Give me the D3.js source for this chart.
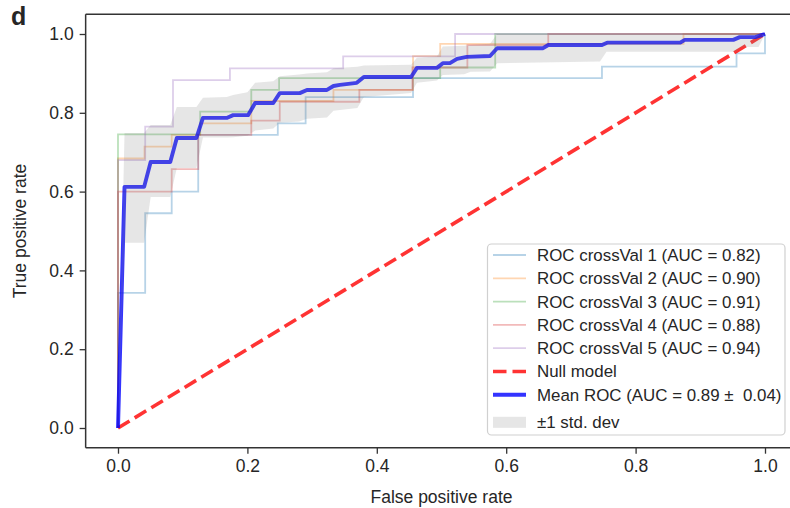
<!DOCTYPE html>
<html>
<head>
<meta charset="utf-8">
<script src="https://cdn.jsdelivr.net/npm/d3@7"></script>
<style>
  body { margin: 0; background: #fff; }
  svg { display: block; }
  text { font-family: "Liberation Sans", Arial, Helvetica, sans-serif; fill: #262626; }
</style>
</head>
<body>
<svg id="chart" width="790" height="508"></svg>
<script>
// ---------- DATA ----------
const xTicks = [0.0, 0.2, 0.4, 0.6, 0.8, 1.0];
const yTicks = [0.0, 0.2, 0.4, 0.6, 0.8, 1.0];
const foldLabels = [
  "ROC crossVal 1 (AUC = 0.82)",
  "ROC crossVal 2 (AUC = 0.90)",
  "ROC crossVal 3 (AUC = 0.91)",
  "ROC crossVal 4 (AUC = 0.88)",
  "ROC crossVal 5 (AUC = 0.94)"
];
const foldColors = ["#1f77b4", "#ff7f0e", "#2ca02c", "#d62728", "#9467bd"];

const fold1Fpr = [0,0,0.042,0.042,0.083,0.083,0.124,0.124,0.247,0.247,0.29,0.29,0.456,0.456,0.748,0.748,0.956,0.956,1,1];
const fold1Tpr = [0,0.343,0.343,0.545,0.545,0.6,0.6,0.744,0.744,0.773,0.773,0.84,0.84,0.888,0.888,0.917,0.917,0.951,0.951,1];
const fold2Fpr = [0,0,0.041,0.041,0.083,0.083,0.127,0.127,0.206,0.206,0.333,0.333,0.456,0.456,0.498,0.498,0.874,0.874,1];
const fold2Tpr = [0,0.684,0.684,0.714,0.714,0.744,0.744,0.773,0.773,0.83,0.83,0.858,0.858,0.944,0.944,0.975,0.975,1,1];
const fold3Fpr = [0,0,0.127,0.127,0.206,0.206,0.249,0.249,0.498,0.498,0.583,0.583,1];
const fold3Tpr = [0,0.745,0.745,0.803,0.803,0.858,0.858,0.888,0.888,0.915,0.915,1,1];
const fold4Fpr = [0,0,0.083,0.083,0.124,0.124,0.206,0.206,0.25,0.25,0.373,0.373,0.455,0.455,0.54,0.54,0.665,0.665,1];
const fold4Tpr = [0,0.6,0.6,0.657,0.657,0.744,0.744,0.78,0.78,0.828,0.828,0.858,0.858,0.915,0.915,0.972,0.972,1,1];
const fold5Fpr = [0,0,0.042,0.042,0.085,0.085,0.173,0.173,0.348,0.348,0.521,0.521,1];
const fold5Tpr = [0,0.68,0.68,0.765,0.765,0.883,0.883,0.913,0.913,0.943,0.943,1,1];

const meanFpr = [0,0.0101,0.0404,0.0505,0.0808,0.0909,0.1212,0.1313,0.168,0.178,0.201,0.212,0.24,0.25,0.281,0.292,0.323,0.333,0.343,0.369,0.38,0.453,0.462,0.493,0.502,0.513,0.524,0.539,0.575,0.586,0.657,0.665,0.748,0.756,0.869,0.876,0.951,0.961,0.985,1];
const meanTpr = [0,0.612,0.612,0.675,0.675,0.736,0.736,0.787,0.787,0.794,0.794,0.825,0.825,0.85,0.85,0.858,0.858,0.868,0.871,0.876,0.891,0.891,0.914,0.914,0.926,0.926,0.937,0.942,0.944,0.964,0.964,0.972,0.972,0.978,0.978,0.985,0.985,0.992,0.992,1];

const bandFpr   = [0,0.0101,0.0404,0.0505,0.0808,0.0909,0.1212,0.1313,0.168,0.178,0.2,0.212,0.24,0.25,0.28,0.292,0.323,0.333,0.37,0.38,0.453,0.462,0.493,0.502,0.535,0.545,0.575,0.586,0.745,0.755,0.955,0.965,0.99,1];
const bandUpper = [0,0.749,0.749,0.769,0.769,0.815,0.815,0.838,0.84,0.845,0.852,0.876,0.88,0.893,0.897,0.9,0.903,0.913,0.917,0.92,0.922,0.94,0.943,0.968,0.97,0.972,0.975,1,1,1,1,1,1,1];
const bandLower = [0,0.47,0.47,0.586,0.586,0.66,0.66,0.737,0.737,0.738,0.742,0.755,0.76,0.775,0.778,0.785,0.788,0.805,0.812,0.84,0.85,0.876,0.882,0.896,0.898,0.904,0.905,0.926,0.93,0.955,0.955,0.967,0.967,1];

const nullFpr = [0, 1];
const nullTpr = [0, 1];

const legendLabels = foldLabels.concat(["Null model", "Mean ROC (AUC = 0.89 \u00B1\u00A0 0.04)", "\u00B11 std. dev"]);

// ---------- CHART ----------
const svg = d3.select("#chart");
const x = d3.scaleLinear().domain([-0.05, 1.05]).range([85.65, 797.35]);
const y = d3.scaleLinear().domain([-0.05, 1.05]).range([447.7, 14.3]);
const zip = (a, b) => a.map((v, i) => [v, b[i]]);
const line = d3.line().x(d => x(d[0])).y(d => y(d[1]));

const folds = [[fold1Fpr, fold1Tpr], [fold2Fpr, fold2Tpr], [fold3Fpr, fold3Tpr], [fold4Fpr, fold4Tpr], [fold5Fpr, fold5Tpr]];
const plot = svg.append("g");
folds.forEach((f, i) => {
  plot.append("path").attr("d", line(zip(f[0], f[1])))
    .attr("fill", "none").attr("stroke", foldColors[i]).attr("stroke-opacity", 0.32)
    .attr("stroke-width", 1.8);
});

plot.append("path").attr("d", line(zip(nullFpr, nullTpr)))
  .attr("fill", "none").attr("stroke", "#ff0000").attr("stroke-opacity", 0.8)
  .attr("stroke-width", 3.6).attr("stroke-dasharray", "13.5,6");

plot.append("path").attr("d", line(zip(meanFpr, meanTpr)))
  .attr("fill", "none").attr("stroke", "#0000ff").attr("stroke-opacity", 0.8)
  .attr("stroke-width", 3.9).attr("stroke-linejoin", "round");

const bandPts = zip(bandFpr, bandUpper).concat(zip(bandFpr, bandLower).reverse());
plot.append("path").attr("d", line(bandPts) + "Z")
  .attr("fill", "#808080").attr("fill-opacity", 0.2).attr("stroke", "none");

// axes
const xAxis = d3.axisBottom(x).tickValues(xTicks).tickFormat(d3.format(".1f")).tickSize(6).tickPadding(6);
const yAxis = d3.axisLeft(y).tickValues(yTicks).tickFormat(d3.format(".1f")).tickSize(6).tickPadding(6);
const gx = svg.append("g").attr("transform", "translate(0,447.7)").call(xAxis);
const gy = svg.append("g").attr("transform", "translate(85.65,0)").call(yAxis);
[gx, gy].forEach(g => {
  g.select(".domain").remove();
  g.selectAll(".tick line").attr("stroke", "#333").attr("stroke-width", 1.3);
  g.selectAll(".tick text").attr("font-size", 17.5).attr("fill", "#262626")
    .attr("font-family", "'Liberation Sans', Arial, Helvetica, sans-serif");
});

// spines
const spine = svg.append("g").attr("stroke", "#333").attr("stroke-width", 1.5);
spine.append("line").attr("x1", x(-0.05)).attr("x2", x(-0.05)).attr("y1", y(-0.05)).attr("y2", y(1.05));
spine.append("line").attr("x1", x(-0.05)).attr("x2", x(1.05)).attr("y1", y(-0.05)).attr("y2", y(-0.05));
spine.append("line").attr("x1", x(-0.05)).attr("x2", x(1.05)).attr("y1", y(1.05)).attr("y2", y(1.05));
spine.append("line").attr("x1", x(1.05)).attr("x2", x(1.05)).attr("y1", y(-0.05)).attr("y2", y(1.05));

// labels
svg.append("text").attr("x", 441.5).attr("y", 503).attr("text-anchor", "middle")
  .attr("font-size", 17.5).text("False positive rate");
svg.append("text").attr("transform", "translate(26,231) rotate(-90)").attr("text-anchor", "middle")
  .attr("font-size", 17.5).text("True positive rate");
svg.append("text").attr("x", 11).attr("y", 25).attr("font-size", 25).attr("font-weight", "bold")
  .attr("fill", "#000").text("d");

// legend
const lg = svg.append("g");
lg.append("rect").attr("x", 487.5).attr("y", 244).attr("width", 297.5).attr("height", 191)
  .attr("rx", 4).attr("fill", "#fff").attr("fill-opacity", 0.8)
  .attr("stroke", "#d0d0d0").attr("stroke-width", 1.2);
const rowY = legendLabels.map((d, i) => i < 7 ? 255 + i * 23.3 : 255 + 6 * 23.3 + 27.5);
const hx0 = 493, hx1 = 526;
legendLabels.forEach((lab, i) => {
  const cy = rowY[i];
  if (i < 5) {
    lg.append("line").attr("x1", hx0).attr("x2", hx1).attr("y1", cy).attr("y2", cy)
      .attr("stroke", foldColors[i]).attr("stroke-opacity", 0.32).attr("stroke-width", 1.8);
  } else if (i === 5) {
    lg.append("line").attr("x1", hx0).attr("x2", hx1).attr("y1", cy).attr("y2", cy)
      .attr("stroke", "#ff0000").attr("stroke-opacity", 0.8).attr("stroke-width", 3.6)
      .attr("stroke-dasharray", "13.5,6");
  } else if (i === 6) {
    lg.append("line").attr("x1", hx0).attr("x2", hx1).attr("y1", cy).attr("y2", cy)
      .attr("stroke", "#0000ff").attr("stroke-opacity", 0.8).attr("stroke-width", 3.9);
  } else {
    lg.append("rect").attr("x", hx0).attr("y", cy - 5.5).attr("width", hx1 - hx0).attr("height", 11)
      .attr("fill", "#808080").attr("fill-opacity", 0.2);
  }
  lg.append("text").attr("x", 537).attr("y", cy).attr("dy", "0.35em")
    .attr("font-size", 16.9).text(lab);
});
</script>
</body>
</html>
